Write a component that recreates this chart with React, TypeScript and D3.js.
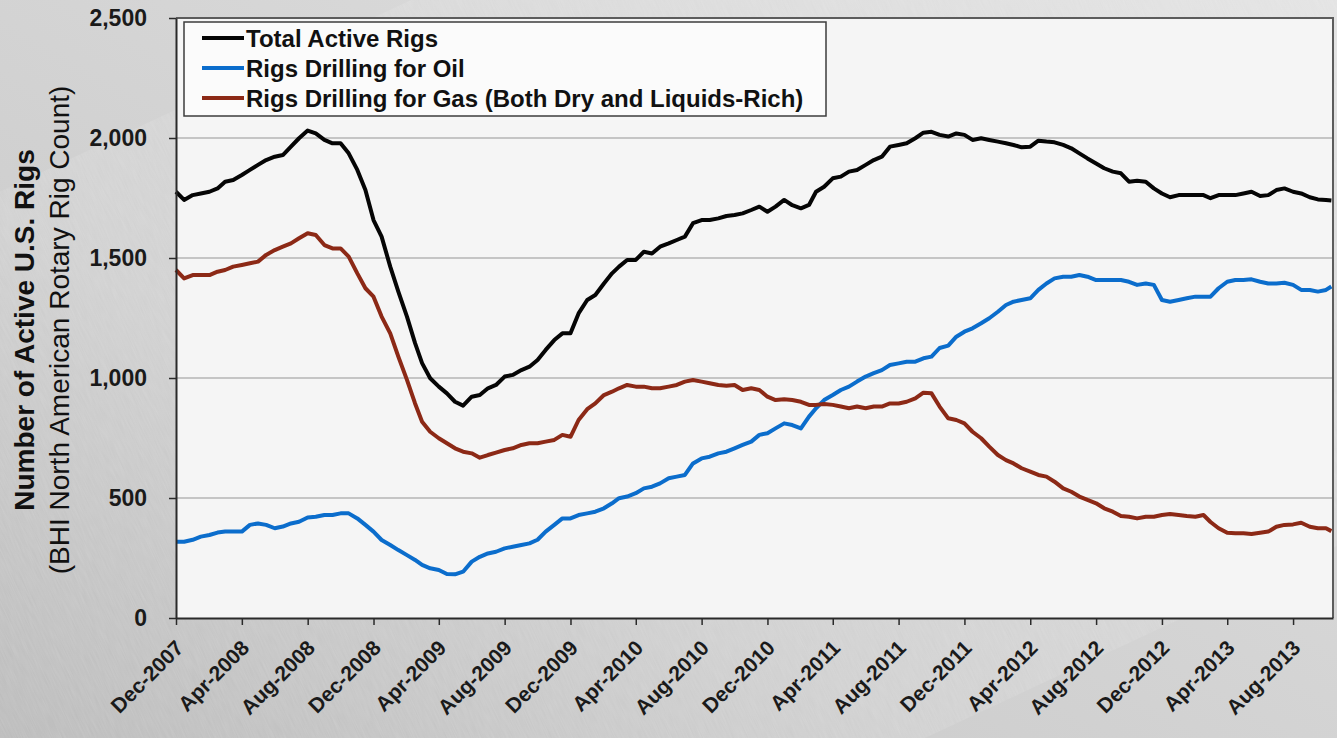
import React, { useEffect, useRef } from "react";
import * as d3 from "d3";

const dates = [
  "2007-12-01", "2007-12-16",
  "2008-01-01", "2008-01-16", "2008-02-01", "2008-02-16", "2008-03-01", "2008-03-16",
  "2008-04-01", "2008-04-16", "2008-05-01", "2008-05-16", "2008-06-01", "2008-06-16",
  "2008-07-01", "2008-07-16", "2008-08-01", "2008-08-16", "2008-09-01", "2008-09-16",
  "2008-10-01", "2008-10-16", "2008-11-01", "2008-11-16", "2008-12-01", "2008-12-16",
  "2009-01-01", "2009-01-16", "2009-02-01", "2009-02-16", "2009-03-01", "2009-03-16",
  "2009-04-01", "2009-04-16", "2009-05-01", "2009-05-16", "2009-06-01", "2009-06-16",
  "2009-07-01", "2009-07-16", "2009-08-01", "2009-08-16", "2009-09-01", "2009-09-16",
  "2009-10-01", "2009-10-16", "2009-11-01", "2009-11-16", "2009-12-01", "2009-12-16",
  "2010-01-01", "2010-01-16", "2010-02-01", "2010-02-16", "2010-03-01", "2010-03-16",
  "2010-04-01", "2010-04-16", "2010-05-01", "2010-05-16", "2010-06-01", "2010-06-16",
  "2010-07-01", "2010-07-16", "2010-08-01", "2010-08-16", "2010-09-01", "2010-09-16",
  "2010-10-01", "2010-10-16", "2010-11-01", "2010-11-16", "2010-12-01", "2010-12-16",
  "2011-01-01", "2011-01-16", "2011-02-01", "2011-02-16", "2011-03-01", "2011-03-16",
  "2011-04-01", "2011-04-16", "2011-05-01", "2011-05-16", "2011-06-01", "2011-06-16",
  "2011-07-01", "2011-07-16", "2011-08-01", "2011-08-16", "2011-09-01", "2011-09-16",
  "2011-10-01", "2011-10-16", "2011-11-01", "2011-11-16", "2011-12-01", "2011-12-16",
  "2012-01-01", "2012-01-16", "2012-02-01", "2012-02-16", "2012-03-01", "2012-03-16",
  "2012-04-01", "2012-04-16", "2012-05-01", "2012-05-16", "2012-06-01", "2012-06-16",
  "2012-07-01", "2012-07-16", "2012-08-01", "2012-08-16", "2012-09-01", "2012-09-16",
  "2012-10-01", "2012-10-16", "2012-11-01", "2012-11-16", "2012-12-01", "2012-12-16",
  "2013-01-01", "2013-01-16", "2013-02-01", "2013-02-16", "2013-03-01", "2013-03-16",
  "2013-04-01", "2013-04-16", "2013-05-01", "2013-05-16", "2013-06-01", "2013-06-16",
  "2013-07-01", "2013-07-16", "2013-08-01", "2013-08-16", "2013-09-01", "2013-09-16",
  "2013-10-01", "2013-10-11",
];

const totalRigs = [
  1776, 1742,
  1762, 1769, 1776, 1790, 1818, 1825, 1846, 1867, 1888, 1908, 1922, 1929,
  1964, 1999, 2031, 2019, 1992, 1978, 1978, 1936, 1867, 1783, 1658, 1589,
  1464, 1360, 1256, 1145, 1062, 999, 964, 936, 901, 885, 922, 929,
  957, 971, 1006, 1013, 1033, 1047, 1075, 1117, 1158, 1186, 1186, 1269,
  1325, 1346, 1394, 1436, 1464, 1492, 1492, 1526, 1519, 1547, 1561, 1575,
  1589, 1645, 1658, 1658, 1665, 1675, 1679, 1686, 1700, 1714, 1693, 1714,
  1742, 1720, 1707, 1721, 1776, 1797, 1832, 1839, 1860, 1867, 1888, 1908,
  1922, 1964, 1971, 1978, 1999, 2022, 2026, 2013, 2006, 2019, 2013, 1992,
  1999, 1992, 1985, 1978, 1971, 1961, 1964, 1989, 1985, 1982, 1971, 1957,
  1936, 1915, 1894, 1874, 1860, 1853, 1818, 1822, 1818, 1790, 1769, 1753,
  1762, 1762, 1762, 1762, 1749, 1762, 1762, 1762, 1769, 1776, 1758, 1762,
  1783, 1790, 1776, 1769, 1753, 1744, 1742, 1740,
];

const oilRigs = [
  318, 318,
  326, 339, 346, 356, 360, 360, 360, 388, 394, 388, 374, 381,
  394, 401, 419, 422, 429, 429, 436, 436, 415, 388, 360, 325,
  304, 283, 262, 242, 221, 207, 200, 183, 182, 193, 235, 255,
  269, 276, 290, 297, 304, 311, 326, 360, 388, 415, 415, 429,
  436, 443, 457, 478, 499, 506, 520, 540, 547, 561, 582, 589,
  596, 644, 665, 672, 686, 693, 707, 721, 735, 763, 770, 790,
  811, 804, 790, 839, 874, 908, 929, 950, 964, 985, 1006, 1020,
  1033, 1054, 1061, 1068, 1068, 1082, 1089, 1125, 1135, 1172, 1193, 1207,
  1228, 1249, 1276, 1304, 1318, 1325, 1332, 1367, 1394, 1415, 1422, 1422,
  1429, 1422, 1408, 1408, 1408, 1408, 1401, 1388, 1394, 1388, 1325, 1318,
  1325, 1332, 1339, 1339, 1339, 1374, 1401, 1408, 1408, 1411, 1401, 1394,
  1394, 1397, 1388, 1367, 1367, 1360, 1367, 1381,
];

const gasRigs = [
  1450, 1415,
  1429, 1429, 1429, 1443, 1450, 1464, 1471, 1478, 1485, 1513, 1533, 1547,
  1561, 1582, 1603, 1596, 1554, 1540, 1540, 1506, 1436, 1374, 1339, 1256,
  1186, 1089, 992, 894, 818, 776, 749, 728, 707, 693, 686, 668,
  679, 689, 700, 707, 721, 728, 728, 735, 742, 763, 755, 825,
  870, 894, 929, 943, 957, 971, 964, 964, 957, 957, 964, 971,
  985, 992, 985, 978, 971, 968, 971, 950, 957, 950, 922, 908,
  911, 908, 901, 888, 888, 892, 888, 881, 874, 881, 874, 881,
  881, 894, 894, 901, 915, 939, 936, 881, 832, 825, 811, 776,
  749, 714, 679, 658, 644, 624, 610, 596, 589, 568, 540, 526,
  506, 492, 478, 457, 443, 425, 422, 415, 422, 422, 429, 433,
  429, 425, 422, 429, 400, 374, 355, 353, 353, 350, 355, 360,
  380, 388, 390, 397, 380, 374, 374, 362,
];

const yTicks = [0, 500, 1000, 1500, 2000, 2500];
const gridValues = [500, 1000, 1500, 2000];
const xTickDates = [
  "2007-12-01", "2008-04-01", "2008-08-01", "2008-12-01", "2009-04-01", "2009-08-01",
  "2009-12-01", "2010-04-01", "2010-08-01", "2010-12-01", "2011-04-01", "2011-08-01",
  "2011-12-01", "2012-04-01", "2012-08-01", "2012-12-01", "2013-04-01", "2013-08-01",
];
const seriesNames = [
  "Total Active Rigs",
  "Rigs Drilling for Oil",
  "Rigs Drilling for Gas (Both Dry and Liquids-Rich)",
];
const seriesColors = ["#050505", "#0b6dcc", "#8c2916"];
const yTitle = "Number of Active U.S. Rigs";
const ySubtitle = "(BHI North American Rotary Rig Count)";

const FONT = "'Liberation Sans', Arial, sans-serif";

const App = () => {
  const svgRef = useRef<SVGSVGElement>(null);

  useEffect(() => {
    const width = 1337;
    const height = 738;
    const margin = { top: 18, right: 4, bottom: 120, left: 176 };
    const parse = d3.timeParse("%Y-%m-%d");

    const svg = d3.select(svgRef.current).attr("width", width).attr("height", height);
    svg.selectAll("*").remove();

    const defs = svg.append("defs");
    const bg = defs
      .append("linearGradient")
      .attr("id", "bg")
      .attr("x1", "0")
      .attr("y1", "1")
      .attr("x2", "1")
      .attr("y2", "0");
    bg.append("stop").attr("offset", "0").attr("stop-color", "#b9b9b9");
    bg.append("stop").attr("offset", "0.35").attr("stop-color", "#cfcfcf");
    bg.append("stop").attr("offset", "0.7").attr("stop-color", "#d9d9d9");
    bg.append("stop").attr("offset", "1").attr("stop-color", "#e2e2e2");

    // faint streaky grain like the brushed backdrop
    const noise = defs.append("filter").attr("id", "grain");
    noise
      .append("feTurbulence")
      .attr("type", "fractalNoise")
      .attr("baseFrequency", "0.9 0.05")
      .attr("numOctaves", 2)
      .attr("seed", 3);
    noise.append("feColorMatrix").attr("values", "0 0 0 0 1  0 0 0 0 1  0 0 0 0 1  0 0 0 0.18 0");

    svg.append("rect").attr("width", width).attr("height", height).attr("fill", "url(#bg)");
    svg
      .append("rect")
      .attr("width", width)
      .attr("height", height)
      .attr("filter", "url(#grain)")
      .attr("transform", "rotate(-25 668 369)");

    const x = d3
      .scaleTime()
      .domain([new Date(2007, 11, 1), new Date(2013, 9, 14)])
      .range([margin.left, width - margin.right]);
    const y = d3
      .scaleLinear()
      .domain([0, 2500])
      .range([height - margin.bottom, margin.top]);

    const [x0, x1] = x.range();
    const [yb, yt] = y.range();

    // plot area
    svg
      .append("rect")
      .attr("x", x0)
      .attr("y", yt)
      .attr("width", x1 - x0)
      .attr("height", yb - yt)
      .attr("fill", "#f5f5f5");

    svg
      .append("g")
      .selectAll("line")
      .data(gridValues)
      .join("line")
      .attr("x1", x0)
      .attr("x2", x1)
      .attr("y1", (d) => y(d))
      .attr("y2", (d) => y(d))
      .attr("stroke", "#b4b4b4")
      .attr("stroke-width", 1.5);

    const line = d3
      .line<number>()
      .x((d, i) => x(parse(dates[i]) as Date))
      .y((d) => y(d));

    [totalRigs, oilRigs, gasRigs].forEach((values, i) => {
      svg
        .append("path")
        .datum(values)
        .attr("d", line)
        .attr("fill", "none")
        .attr("stroke", seriesColors[i])
        .attr("stroke-width", 4)
        .attr("stroke-linejoin", "round");
    });

    // frame (top and right)
    svg
      .append("path")
      .attr("d", `M${x0},${yt}H${x1}V${yb}`)
      .attr("fill", "none")
      .attr("stroke", "#5c5c5c")
      .attr("stroke-width", 2);

    const leftAxis = svg
      .append("g")
      .attr("transform", `translate(${x0},0)`)
      .call(d3.axisLeft(y).tickValues(yTicks).tickFormat(d3.format(",")).tickSize(7).tickSizeOuter(0));
    leftAxis.select(".domain").attr("stroke", "#2a2a2a").attr("stroke-width", 2);
    leftAxis.selectAll(".tick line").attr("stroke", "#2a2a2a").attr("stroke-width", 1.5);
    leftAxis
      .selectAll("text")
      .attr("x", -29)
      .style("font-family", FONT)
      .style("font-size", "23px")
      .style("font-weight", "bold")
      .style("fill", "#1a1a1a");

    const bottomAxis = svg
      .append("g")
      .attr("transform", `translate(0,${yb})`)
      .call(
        d3
          .axisBottom(x)
          .tickValues(xTickDates.map((d) => parse(d) as Date))
          .tickFormat(d3.timeFormat("%b-%Y") as any)
          .tickSize(7)
          .tickSizeOuter(0)
      );
    bottomAxis.select(".domain").attr("stroke", "#2a2a2a").attr("stroke-width", 2);
    bottomAxis.selectAll(".tick line").attr("stroke", "#2a2a2a").attr("stroke-width", 1.5);
    bottomAxis
      .selectAll("text")
      .attr("x", 0)
      .attr("y", 0)
      .attr("dy", "0.35em")
      .attr("transform", "translate(3,26) rotate(-45)")
      .style("text-anchor", "end")
      .style("font-family", FONT)
      .style("font-size", "21px")
      .style("font-weight", "bold")
      .style("fill", "#1a1a1a");

    // axis titles
    const titleY = 330;
    svg
      .append("text")
      .attr("transform", `translate(34,${titleY}) rotate(-90)`)
      .attr("text-anchor", "middle")
      .style("font-family", FONT)
      .style("font-size", "28px")
      .style("font-weight", "bold")
      .style("fill", "#111")
      .text(yTitle);
    svg
      .append("text")
      .attr("transform", `translate(69,${titleY}) rotate(-90)`)
      .attr("text-anchor", "middle")
      .style("font-family", FONT)
      .style("font-size", "28px")
      .style("fill", "#111")
      .text(ySubtitle);

    // legend
    const legend = svg.append("g").attr("transform", "translate(184,22)");
    legend
      .append("rect")
      .attr("width", 642)
      .attr("height", 94)
      .attr("fill", "#fbfbfb")
      .attr("stroke", "#3c3c3c")
      .attr("stroke-width", 1.5);
    const items = legend
      .selectAll("g.item")
      .data(seriesNames)
      .join("g")
      .attr("class", "item")
      .attr("transform", (d, i) => `translate(0,${16 + i * 30})`);
    items
      .append("line")
      .attr("x1", 18)
      .attr("x2", 60)
      .attr("y1", 0)
      .attr("y2", 0)
      .attr("stroke", (d, i) => seriesColors[i])
      .attr("stroke-width", 4);
    items
      .append("text")
      .attr("x", 62)
      .attr("y", 0)
      .attr("dy", "0.36em")
      .style("font-family", FONT)
      .style("font-size", "24px")
      .style("font-weight", "bold")
      .style("fill", "#111")
      .text((d) => d);
  }, []);

  return <svg ref={svgRef} style={{ position: "fixed", left: 0, top: 0, display: "block" }}></svg>;
};

export default App;
